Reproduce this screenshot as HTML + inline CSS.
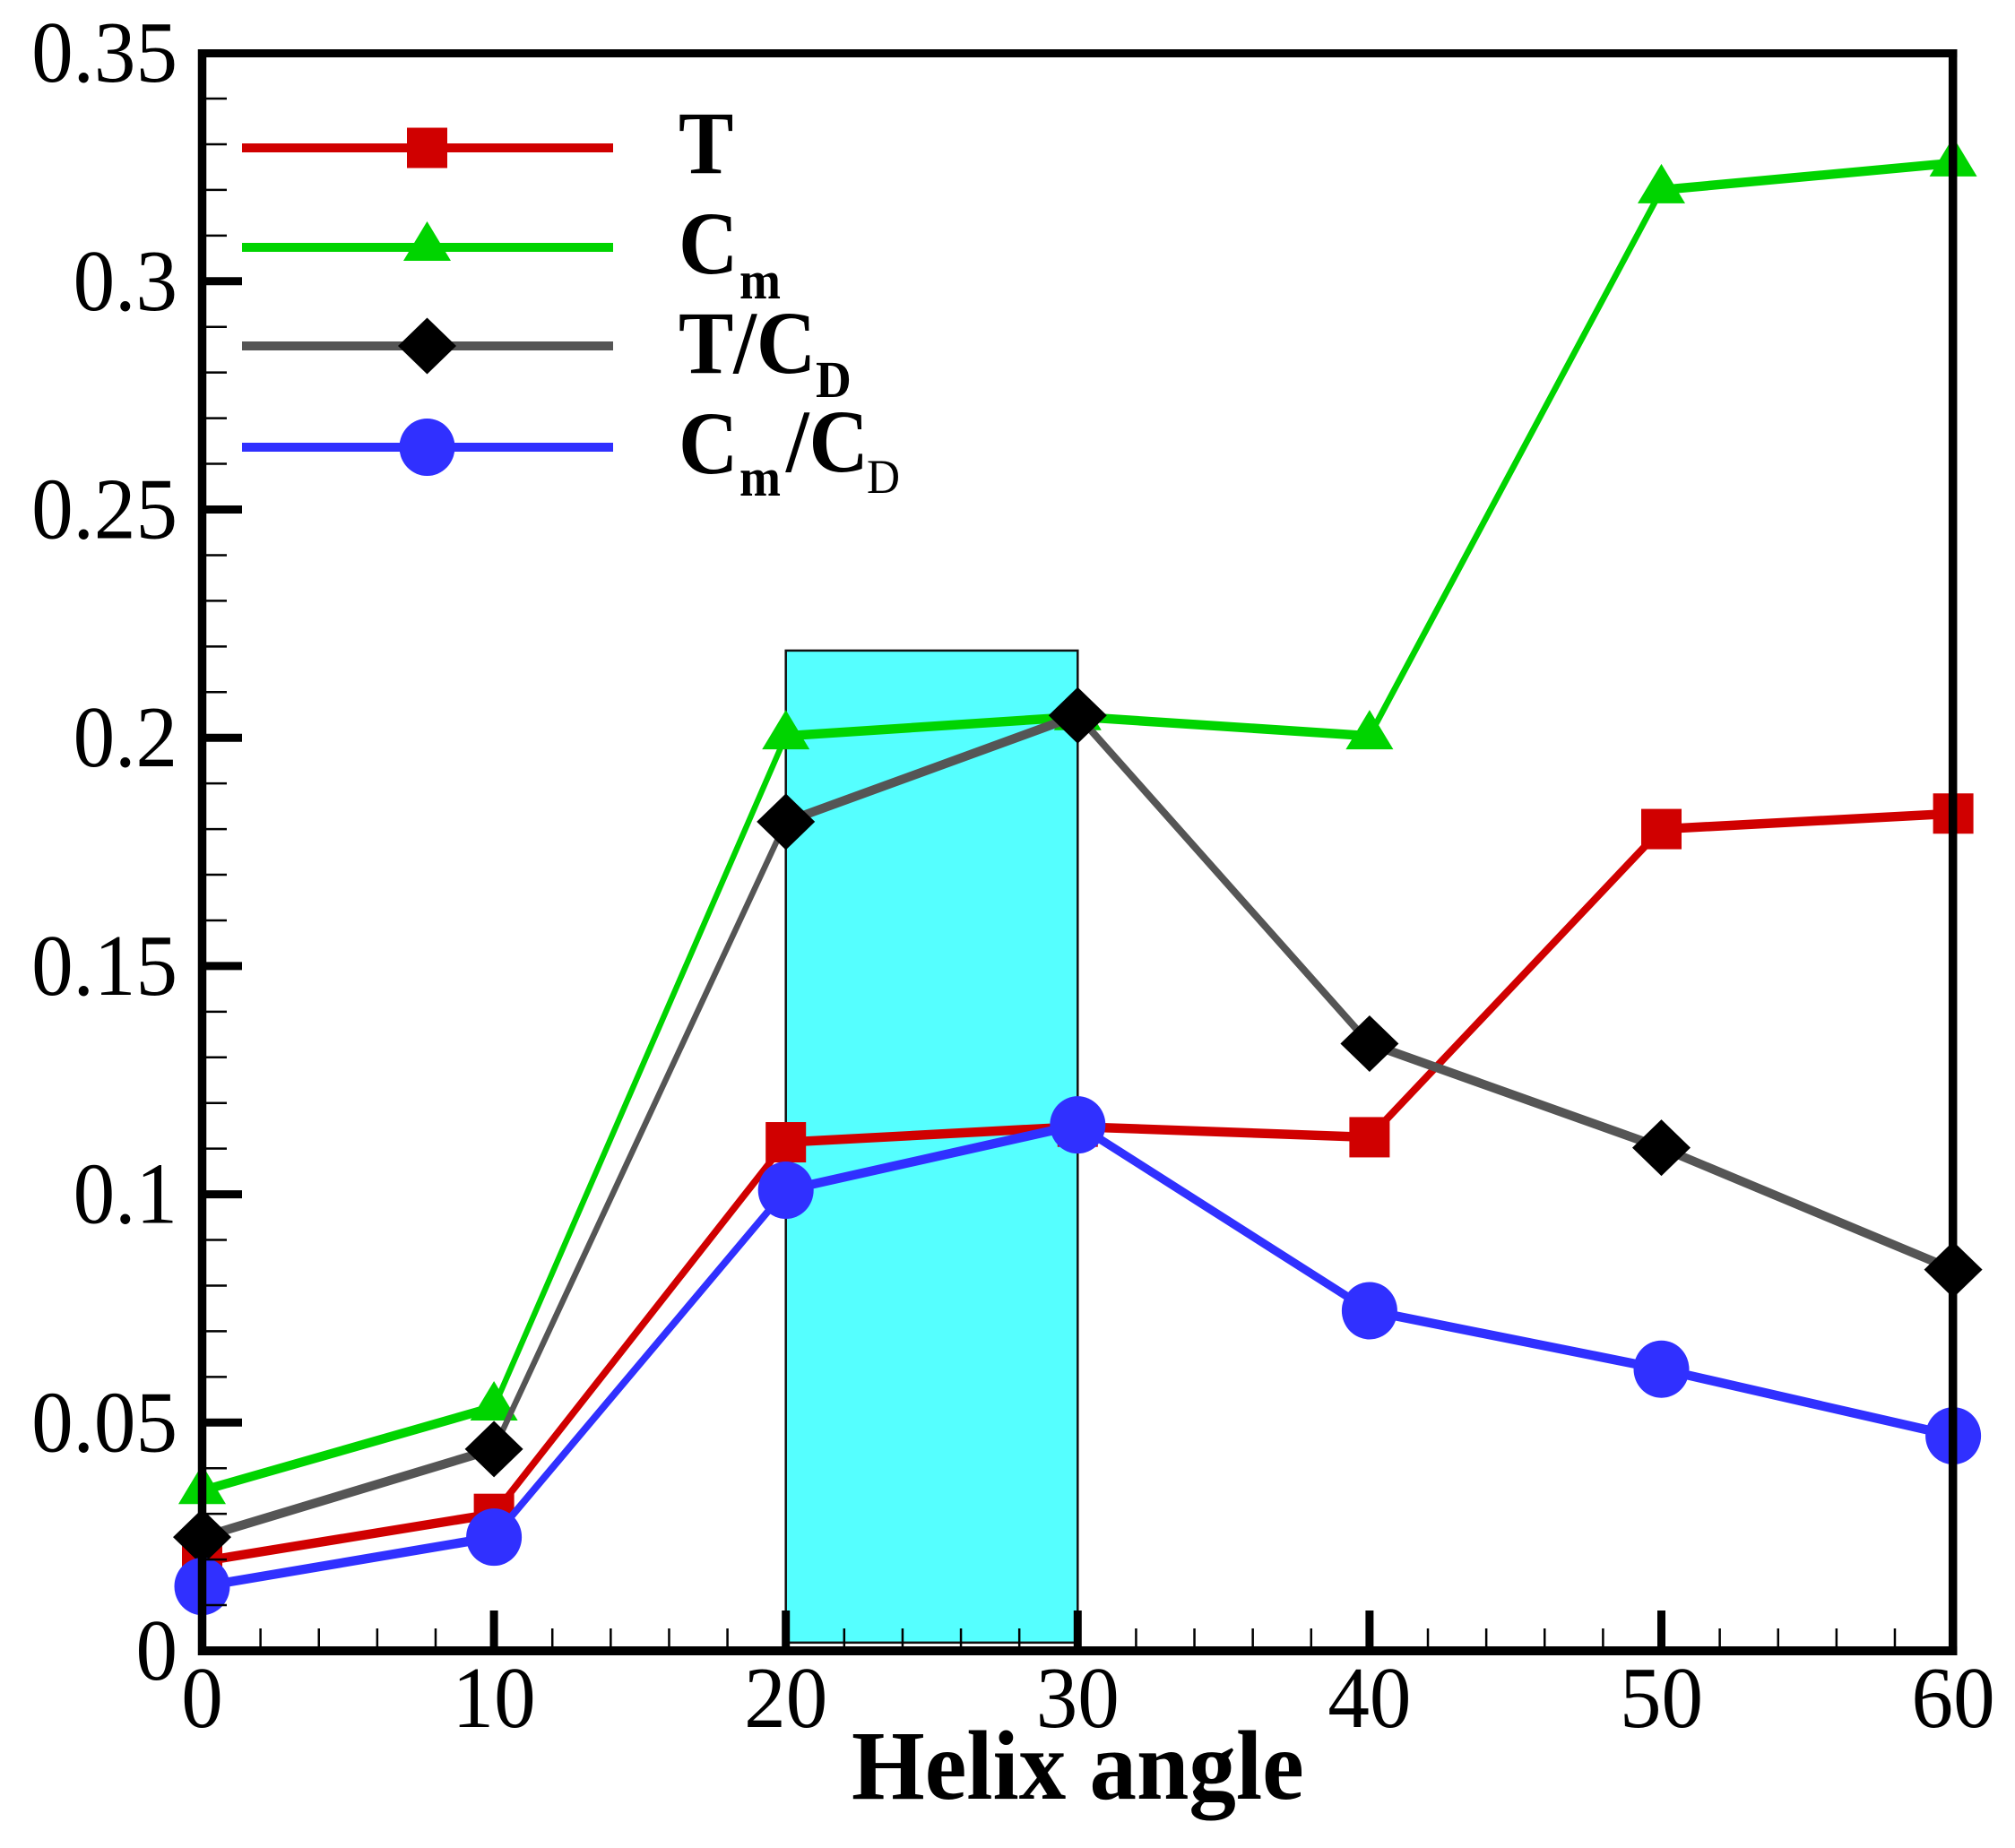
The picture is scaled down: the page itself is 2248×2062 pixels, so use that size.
<!DOCTYPE html>
<html lang="en">
<head>
<meta charset="utf-8">
<title>Helix angle chart</title>
<style>
  html, body { margin: 0; padding: 0; background: #fff; }
  svg { display: block; }
  text { font-family: "Liberation Serif", serif; fill: #000; }
  .b { font-weight: bold; }
</style>
</head>
<body>
<svg id="chart" xmlns="http://www.w3.org/2000/svg" width="2248" height="2062" viewBox="0 0 2248 2062">
  <rect x="0" y="0" width="2248" height="2062" fill="#fff"/>
  <g id="highlight"></g>
  <g id="series"></g>
  <g id="axes"></g>
  <g id="legend">
    <text class="b" font-size="100" transform="translate(757,193) scale(.92,1)">T</text>
    <text class="b" font-size="100" transform="translate(757,305) scale(.92,1)">C</text>
    <text class="b" font-size="60" transform="translate(825,333) scale(.92,1)">m</text>
    <text class="b" font-size="100" transform="translate(757,416) scale(.92,1)">T/C</text>
    <text class="b" font-size="58" transform="translate(910,443) scale(.95,1)">D</text>
    <text class="b" font-size="100" transform="translate(757,528) scale(.92,1)">C</text>
    <text class="b" font-size="60" transform="translate(825,553) scale(.92,1)">m</text>
    <text class="b" font-size="100" transform="translate(877,526) scale(.92,1)">/C</text>
    <text font-size="54" transform="translate(967,550) scale(.95,1)">D</text>
  </g>
  <text class="b" font-size="110" transform="translate(950,2007) scale(.955,1)">Helix angle</text>
</svg>
<script>
// Chart data
const helixAngles = [0, 10, 20, 30, 40, 50, 60];
const seriesT = [0.0196, 0.03, 0.1114, 0.1148, 0.1125, 0.18, 0.1834];
const seriesCm = [0.0351, 0.0534, 0.2004, 0.2046, 0.2004, 0.32, 0.3259];
const seriesTCd = [0.0249, 0.0442, 0.1816, 0.2049, 0.133, 0.1102, 0.0835];
const seriesCmCd = [0.0141, 0.0249, 0.1009, 0.1152, 0.0745, 0.0617, 0.0471];
const xTickLabels = ['0', '10', '20', '30', '40', '50', '60'];
const yTickLabels = ['0', '0.05', '0.1', '0.15', '0.2', '0.25', '0.3', '0.35'];
const xTickValues = [0, 10, 20, 30, 40, 50, 60];
const yTickValues = [0, 0.05, 0.1, 0.15, 0.2, 0.25, 0.3, 0.35];
const highlightXRange = [20, 30];
const highlightYRange = [0.0018, 0.2191];

const NS = 'http://www.w3.org/2000/svg';
const X0 = 225.5, XK = 32.56, Y0 = 1842, YK = 5094;
const xScale = v => X0 + XK * v;
const yScale = v => Y0 - YK * v;
const SX = 0.5; // lines are thinner horizontally than vertically

function make(tag, parent) {
  const el = document.createElementNS(NS, tag);
  parent.appendChild(el);
  return el;
}

function drawMarker(parent, kind, color, cx, cy, name) {
  let el;
  if (kind === 'square') {
    el = make('rect', parent);
    el.setAttribute('x', cx - 22.5);
    el.setAttribute('y', cy - 22.5);
    el.setAttribute('width', 45);
    el.setAttribute('height', 45);
  } else if (kind === 'triangle') {
    el = make('polygon', parent);
    el.setAttribute('points', `${cx},${cy - 29} ${cx + 26.5},${cy + 15} ${cx - 26.5},${cy + 15}`);
  } else if (kind === 'diamond') {
    el = make('polygon', parent);
    el.setAttribute('points', `${cx},${cy - 31.5} ${cx + 32.5},${cy} ${cx},${cy + 31.5} ${cx - 32.5},${cy}`);
  } else {
    el = make('ellipse', parent);
    el.setAttribute('cx', cx);
    el.setAttribute('cy', cy);
    el.setAttribute('rx', 31);
    el.setAttribute('ry', 32);
  }
  el.setAttribute('fill', color);
  
  
}

function drawLine(parent, x1, y1, x2, y2, width, name) {
  const el = make('line', parent);
  el.setAttribute('x1', x1);
  el.setAttribute('y1', y1);
  el.setAttribute('x2', x2);
  el.setAttribute('y2', y2);
  el.setAttribute('stroke', '#000');
  el.setAttribute('stroke-width', width);
  
  
}

function drawSeries(values, color, kind, name) {
  const layer = document.getElementById('series');
  const g = make('g', layer);
  
  
  const wrap = make('g', g);
  wrap.setAttribute('transform', `scale(${SX},1)`);
  const line = make('polyline', wrap);
  line.setAttribute('points', values.map((v, i) => `${xScale(helixAngles[i]) / SX},${yScale(v)}`).join(' '));
  line.setAttribute('fill', 'none');
  line.setAttribute('stroke', color);
  line.setAttribute('stroke-width', 10.5);
  line.setAttribute('stroke-linejoin', 'round');
  
  
  values.forEach((v, i) => {
    drawMarker(g, kind, color === '#555555' ? '#000' : color, xScale(helixAngles[i]), yScale(v), name + '-marker-' + helixAngles[i]);
  });
}

function drawLegendEntry(y, color, kind, name) {
  const lg = document.getElementById('legend');
  const g = make('g', lg);
  
  
  const l = make('rect', g);
  l.setAttribute('x', 270);
  l.setAttribute('y', y - 5);
  l.setAttribute('width', 414);
  l.setAttribute('height', 10);
  l.setAttribute('fill', color);
  
  
  drawMarker(g, kind, color === '#555555' ? '#000' : color, 476.5, y, name + '-marker');
}

// Highlight band
const hl = make('rect', document.getElementById('highlight'));
hl.setAttribute('x', xScale(highlightXRange[0]));
hl.setAttribute('y', yScale(highlightYRange[1]));
hl.setAttribute('width', xScale(highlightXRange[1]) - xScale(highlightXRange[0]));
hl.setAttribute('height', yScale(highlightYRange[0]) - yScale(highlightYRange[1]));
hl.setAttribute('fill', '#55FFFF');
hl.setAttribute('stroke', '#111');
hl.setAttribute('stroke-width', 2.5);



// Series
drawSeries(seriesT, '#D00000', 'square', 't');
drawSeries(seriesCm, '#00D400', 'triangle', 'cm');
drawSeries(seriesTCd, '#555555', 'diamond', 't-cd');
drawSeries(seriesCmCd, '#3030FF', 'circle', 'cm-cd');

// Axes
const axes = document.getElementById('axes');
xTickValues.forEach((v, i) => {
  const x = xScale(v);
  if (i > 0 && i < xTickValues.length - 1) {
    drawLine(axes, x, 1842, x, 1797, 9, 'x-major-tick-' + v);
  }
  if (i < xTickValues.length - 1) {
    const step = (xTickValues[i + 1] - v) / 5;
    for (let k = 1; k < 5; k++) {
      const mx = xScale(v + k * step);
      drawLine(axes, mx, 1842, mx, 1817, 2.5, 'x-minor-tick');
    }
  }
  const t = make('text', axes);
  t.textContent = xTickLabels[i];
  t.setAttribute('font-size', 98);
  t.setAttribute('text-anchor', 'middle');
  t.setAttribute('transform', `translate(${x},1927) scale(.95,1)`);
  
  
});
yTickValues.forEach((v, i) => {
  const y = yScale(v);
  if (i > 0 && i < yTickValues.length - 1) {
    drawLine(axes, X0, y, 270, y, 9, 'y-major-tick-' + yTickLabels[i]);
  }
  if (i < yTickValues.length - 1) {
    const step = (yTickValues[i + 1] - v) / 5;
    for (let k = 1; k < 5; k++) {
      const my = yScale(v + k * step);
      drawLine(axes, X0, my, 253, my, 2.5, 'y-minor-tick');
    }
  }
  const t = make('text', axes);
  t.textContent = yTickLabels[i];
  t.setAttribute('font-size', 98);
  t.setAttribute('text-anchor', 'end');
  t.setAttribute('transform', `translate(198,${y + 32}) scale(.95,1)`);
  
  
});
drawLine(axes, 225.5, 55, 225.5, 1847, 9.5, 'y-axis-line');
drawLine(axes, 2178.7, 55, 2178.7, 1847, 9.5, 'right-axis-line');
drawLine(axes, 221, 59.5, 2183.5, 59.5, 9, 'top-axis-line');
drawLine(axes, 221, 1842, 2183.5, 1842, 10, 'x-axis-line');

// Legend
drawLegendEntry(165, '#D00000', 'square', 'legend-entry-t');
drawLegendEntry(276, '#00D400', 'triangle', 'legend-entry-cm');
drawLegendEntry(386, '#555555', 'diamond', 'legend-entry-t-cd');
drawLegendEntry(499, '#3030FF', 'circle', 'legend-entry-cm-cd');
</script>
</body>
</html>
